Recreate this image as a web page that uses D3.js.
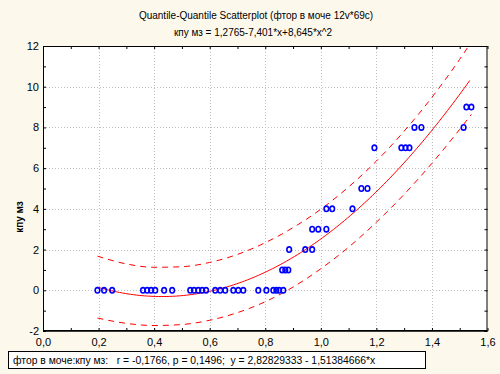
<!DOCTYPE html>
<html><head><meta charset="utf-8">
<script src="https://cdn.jsdelivr.net/npm/d3@7/dist/d3.min.js"></script>
<style>
html,body{margin:0;padding:0;background:#fdf8ec;}
svg{display:block;}
text{font-family:"Liberation Sans",Arial,sans-serif;}
</style></head><body>
<svg id="c" width="500" height="374"></svg>
<script>
const titleText = "Quantile-Quantile Scatterplot (фтор в моче 12v*69c)";
const subtitleText = "кпу мз = 1,2765-7,401*x+8,645*x^2";
const yTitle = "кпу мз";
const legendText = "фтор в моче:кпу мз:   r = -0,1766, p = 0,1496;  y = 2,82829333 - 1,51384666*x";
const xTickValues = [0,0.2,0.4,0.6,0.8,1.0,1.2,1.4,1.6];
const xTickLabels = ["0,0","0,2","0,4","0,6","0,8","1,0","1,2","1,4","1,6"];
const yTickValues = [-2,0,2,4,6,8,10,12];
const yTickLabels = ["-2","0","2","4","6","8","10","12"];
const fitCoef = [1.2765, -7.401, 8.645];

const pointsX = [0.196,0.220,0.249,0.360,0.375,0.389,0.404,0.436,0.465,0.530,0.544,0.559,0.573,0.587,0.620,0.638,0.656,0.685,0.703,0.721,0.775,0.804,0.829,0.840,0.850,0.865,
  0.861,0.872,0.883,
  0.886,0.944,0.969,
  0.969,0.991,1.020,
  1.020,1.041,1.114,
  1.146,1.168,
  1.193,1.290,1.305,1.319,
  1.337,1.362,1.514,
  1.524,1.542];
const pointsY = [0,0,0,0,0,0,0,0,0,0,0,0,0,0,0,0,0,0,0,0,0,0,0,0,0,0,
  1,1,1,
  2,2,2,
  3,3,3,
  4,4,4,
  5,5,
  7,7,7,7,
  8,8,8,
  9,9];

const bandX    = [0.196,0.30,0.40,0.50,0.60,0.70,0.80,0.90,1.00,1.10,1.20,1.30,1.40,1.50,1.542];
const bandHalf = [1.52, 1.46,1.43,1.42,1.42,1.43,1.45,1.46,1.46,1.48,1.50,1.55,1.62,1.72,1.78];

const svg = d3.select("#c");
const L=43, R=487.5, T=46, B=331;
const x = d3.scaleLinear().domain([0,1.6]).range([L,R]);
const y = d3.scaleLinear().domain([-2,12]).range([B,T]);

svg.append("rect").attr("x",L).attr("y",T).attr("width",R-L).attr("height",B-T).attr("fill","#fff");

// grid
const grid = svg.append("g").attr("stroke","#c0c0c0").attr("stroke-dasharray","1,2").attr("stroke-width",1);
xTickValues.slice(1,-1).forEach(v=>grid.append("line").attr("x1",Math.round(x(v))+0.5).attr("x2",Math.round(x(v))+0.5).attr("y1",T).attr("y2",B));
yTickValues.slice(1,-1).forEach(v=>grid.append("line").attr("y1",Math.round(y(v))+0.5).attr("y2",Math.round(y(v))+0.5).attr("x1",L).attr("x2",R));

// axes
const xMinor = d3.range(0,1.61,0.1);
const yMinor = d3.range(-2,12.1,1);
const fmtX = d=>{const i=xTickValues.findIndex(v=>Math.abs(v-d)<1e-6);return i>=0?xTickLabels[i]:"";};
const fmtY = d=>{const i=yTickValues.findIndex(v=>Math.abs(v-d)<1e-6);return i>=0?yTickLabels[i]:"";};
const styleAxis = g=>{g.select(".domain").remove();g.selectAll("line").attr("stroke","#000");g.selectAll("text").attr("fill","#000").style("font-size","11px").style("font-family","Liberation Sans, Arial, sans-serif");};
svg.append("g").attr("transform",`translate(0,${B})`).call(d3.axisBottom(x).tickValues(xMinor).tickSize(-3).tickPadding(7).tickFormat(fmtX)).call(styleAxis);
svg.append("g").attr("transform",`translate(0,${T})`).call(d3.axisTop(x).tickValues(xMinor).tickSize(-3).tickFormat("")).call(styleAxis);
svg.append("g").attr("transform",`translate(${L},0)`).call(d3.axisLeft(y).tickValues(yMinor).tickSize(-3).tickPadding(4).tickFormat(fmtY)).call(styleAxis);
svg.append("g").attr("transform",`translate(${R},0)`).call(d3.axisRight(y).tickValues(yMinor).tickSize(-3).tickFormat("")).call(styleAxis);

// clip
svg.append("clipPath").attr("id","pc").append("rect").attr("x",L).attr("y",T).attr("width",R-L).attr("height",B-T);
const plot = svg.append("g").attr("clip-path","url(#pc)");

const fit = v=>fitCoef[0]+fitCoef[1]*v+fitCoef[2]*v*v;
const fx = d3.range(bandX[0], bandX[bandX.length-1]+1e-9, 0.01);
const line = d3.line().x(d=>x(d[0])).y(d=>y(d[1]));
plot.append("path").attr("d",line(fx.map(v=>[v,fit(v)]))).attr("fill","none").attr("stroke","#ff0000").attr("stroke-width",1);
const lineC = d3.line().x(d=>x(d[0])).y(d=>y(d[1])).curve(d3.curveMonotoneX);
plot.append("path").attr("d",lineC(bandX.map((v,i)=>[v,fit(v)+bandHalf[i]]))).attr("fill","none").attr("stroke","#ff0000").attr("stroke-width",1).attr("stroke-dasharray","6,5");
plot.append("path").attr("d",lineC(bandX.map((v,i)=>[v,fit(v)-bandHalf[i]]))).attr("fill","none").attr("stroke","#ff0000").attr("stroke-width",1).attr("stroke-dasharray","6,5");

// points
plot.selectAll("ellipse.p").data(pointsX.map((v,i)=>[v,pointsY[i]])).enter().append("ellipse")
  .attr("cx",d=>x(d[0])).attr("cy",d=>y(d[1])).attr("rx",2.3).attr("ry",2.7)
  .attr("fill","none").attr("stroke","#0000ff").attr("stroke-width",1.6);

// frame
svg.append("rect").attr("x",L+0.5).attr("y",T+0.5).attr("width",R-L-1).attr("height",B-T-1).attr("fill","none").attr("stroke","#000").attr("stroke-width",1);
svg.append("line").attr("x1",L).attr("x2",R).attr("y1",B).attr("y2",B).attr("stroke","#000").attr("stroke-width",1.5);

// titles
svg.append("text").attr("x",256).attr("y",19).attr("text-anchor","middle").style("font-size","10px").text(titleText);
svg.append("text").attr("x",253).attr("y",36).attr("text-anchor","middle").style("font-size","10px").text(subtitleText);
svg.append("text").attr("transform","translate(23,217) rotate(-90)").attr("text-anchor","middle").style("font-size","10px").style("font-weight","bold").text(yTitle);

// legend box
svg.append("rect").attr("x",8.5).attr("y",351.5).attr("width",417).attr("height",17).attr("fill","#fff").attr("stroke","#000").attr("stroke-width",1);
svg.append("text").attr("x",13).attr("y",364).style("font-size","10.35px").attr("xml:space","preserve").style("white-space","pre").text(legendText);
</script>
</body></html>
